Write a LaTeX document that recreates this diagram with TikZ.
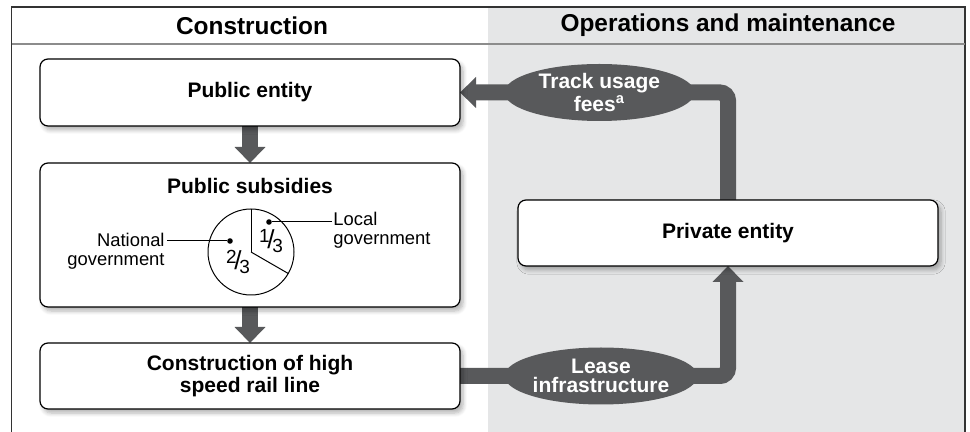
\documentclass[tikz,border=0pt]{standalone}
\usepackage{fontspec}
\setmainfont{Liberation Sans}
\usepackage{tikz}
\usetikzlibrary{arrows.meta, positioning, backgrounds, shapes.geometric, shadows.blur, calc}
\definecolor{panelgray}{RGB}{229,230,231}
\definecolor{flowgray}{RGB}{88,89,91}
\newcommand{\pieshare}[2]{\raisebox{0.36em}{\fontsize{9.5}{9.5}\selectfont #1}\kern-0.12em{\fontsize{13}{13}\selectfont/}\kern-0.12em\raisebox{-0.22em}{\fontsize{9.5}{9.5}\selectfont #2}}
\tikzset{%
	boxtext/.style={font=\fontsize{10.5}{11}\selectfont\bfseries},
	box/.style={draw, rectangle, rounded corners=4pt, fill=white, line width=0.6pt,%
		minimum width=210pt, minimum height=33pt, inner sep=0pt, outer sep=0pt, align=center, boxtext,%
		blur shadow={shadow xshift=1.5pt, shadow yshift=-2pt, shadow blur steps=6, shadow opacity=30}},
	pay/.style={ellipse, fill=flowgray, text=white, minimum width=95pt, minimum height=28.5pt,%
		inner sep=0pt, align=center, font=\fontsize{10.5}{9.5}\selectfont\bfseries},
	flow/.style={draw=flowgray, line width=8pt, rounded corners=4pt},
	flowto/.style={flow, -{Triangle[width=15pt, length=8pt]}},
	head/.style={font=\fontsize{12.2}{14}\selectfont\bfseries},
	tag/.style={font=\fontsize{9.2}{9.5}\selectfont, inner sep=0pt},
	dot/.style={circle, fill, inner sep=0pt, minimum size=2.8pt},
	frame/.style={draw=black!80, line width=0.6pt}
}

\begin{document}
\begin{tikzpicture}[x=0.5pt, y=0.5pt]
	\useasboundingbox (0,0) rectangle (970,-432);
	\node[head] (hcon) at (252,-25.5) {Construction};
	\node[head] (hops) at (728,-25.5) {Operations and maintenance};

	\node[box, minimum height=33.5pt] (pub) at (250,-92.5) {Public entity};
	\node[box, minimum height=72pt, below=18.5pt of pub] (subs) {};
	\node[boxtext, inner sep=0pt, anchor=north, below=7.5pt of subs.north] (substitle) {Public subsidies};
	\node[box, below=18pt of subs] (cons) {Construction of high\\speed rail line};
	\node[box] (priv) at (728,-233) {Private entity};
	\node[pay, right=22pt of pub] (fees) {Track usage\\fees\textsuperscript{a}};
	\node[pay, right=22pt of cons] (lease) {Lease\\infrastructure};

	\coordinate (pie) at (251,-252);
	\draw[line width=0.5pt] (pie) circle[radius=21.5pt];
	\draw[line width=0.5pt] (pie) -- ++(90:21.5pt);
	\draw[line width=0.5pt] (pie) -- ++(-30:21.5pt);
	\node[tag] (one) at ($(pie)+(20,11)$) {\pieshare{1}{3}};
	\node[tag] (two) at ($(pie)+(-13,-10)$) {\pieshare{2}{3}};
	\node[dot] (ldot) at ($(pie)+(18,30)$) {};
	\node[dot] (ndot) at ($(pie)+(-21,11)$) {};
	\node[tag, anchor=north west, align=left] (ltxt) at (333,-212) {Local\\government};
	\node[tag, anchor=north east, align=right] (ntxt) at (165,-233) {National\\government};
	\draw[line width=0.5pt] (ldot) -- ([xshift=-0.5pt]ldot -| ltxt.west);
	\draw[line width=0.5pt] (ndot) -- ([xshift=1pt]ndot -| ntxt.east);

	\begin{scope}[on background layer]
		\fill[panelgray] (488,-7) rectangle (965,-440);
		\draw[frame] (11.5,-7) rectangle (965,-440);
		\draw[draw=black!45, line width=0.6pt] (11.5,-44) -- (965,-44);
		\draw[flowto] (pub.south) -- (subs.north);
		\draw[flowto] (subs.south) -- (cons.north);
		\draw[flowto] (priv.north) |- (pub.east);
		\draw[flowto] (cons.east) -| (priv.south);
	\end{scope}
\end{tikzpicture}
\end{document}
